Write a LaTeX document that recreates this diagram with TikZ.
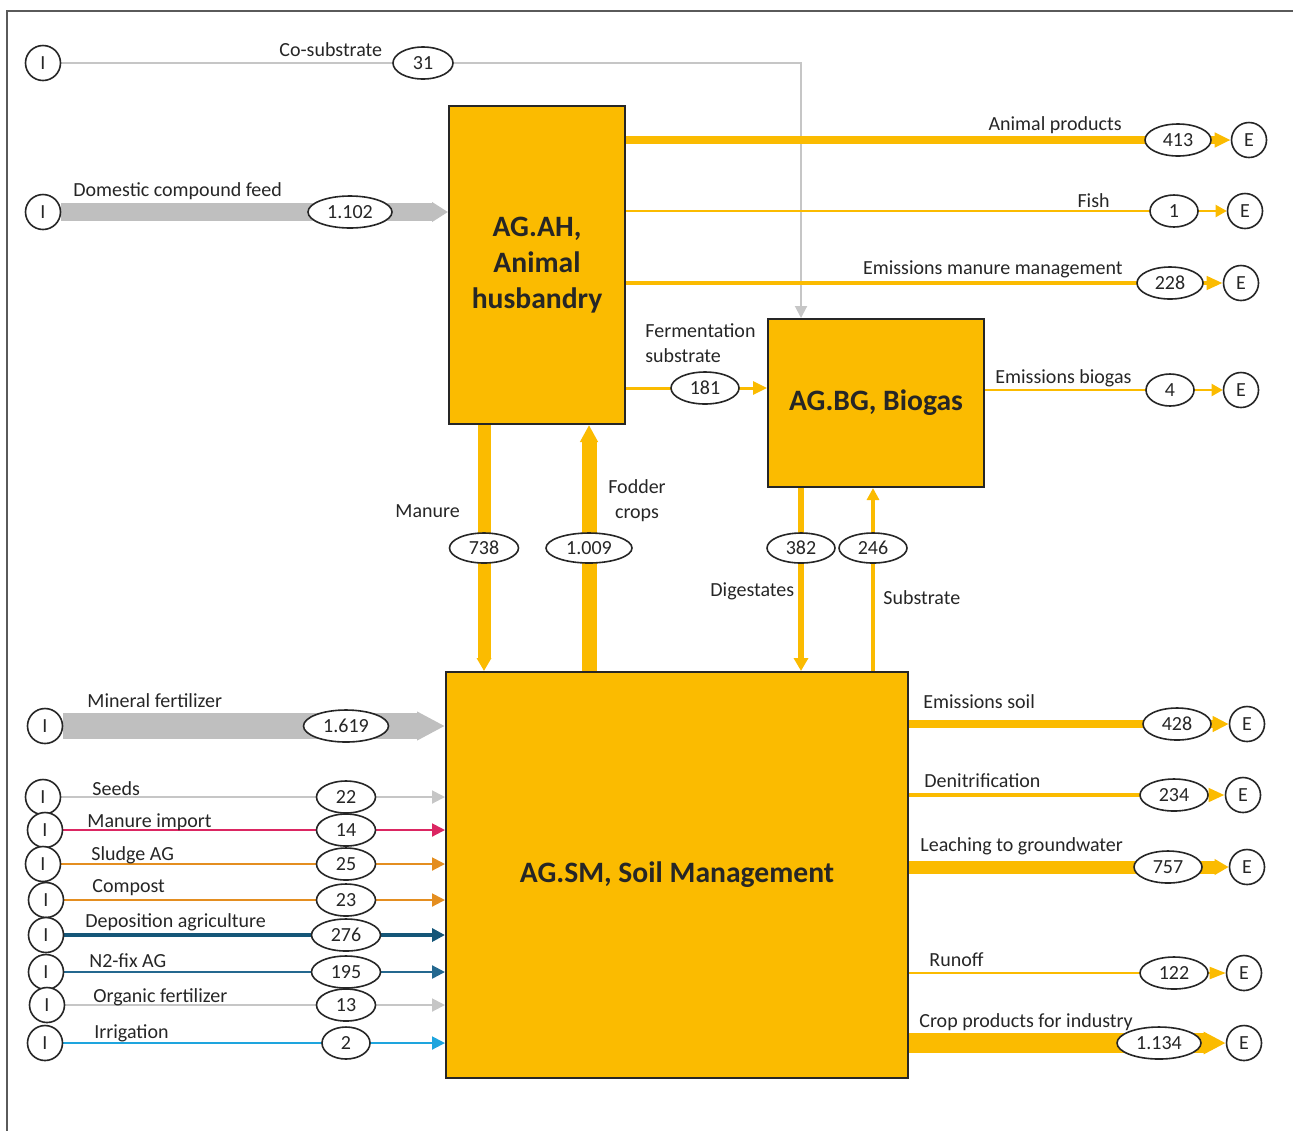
\documentclass[tikz,border=0pt]{standalone}
\usepackage{fontspec}
\setmainfont{Carlito}
\usepackage{tikz}
\usetikzlibrary{arrows.meta,shapes.geometric,backgrounds}
\definecolor{agyellow}{RGB}{251,187,0}
\definecolor{bandgray}{RGB}{191,191,191}
\definecolor{linegray}{RGB}{198,198,198}
\definecolor{framegray}{RGB}{90,90,90}
\definecolor{manurered}{RGB}{219,38,98}
\definecolor{sludgeorange}{RGB}{228,142,32}
\definecolor{depoblue}{RGB}{21,86,120}
\definecolor{fixblue}{RGB}{36,104,143}
\definecolor{irriblue}{RGB}{30,165,222}

\begin{document}
\begin{tikzpicture}[x=0.5pt,y=-0.5pt,font=\fontsize{10}{12.25}\selectfont,text=black!85,
    io/.style={circle,draw=black!85,line width=0.8pt,fill=white,minimum size=17.5pt,inner sep=0pt},
    val/.style={ellipse,draw=black!85,line width=0.8pt,fill=white,minimum height=16pt,inner sep=0pt},
    sector/.style={draw=black!85,line width=1pt,fill=agyellow,anchor=north west,align=center,inner sep=0pt,
      font=\fontsize{14.8}{18}\selectfont\bfseries},
    lbl/.style={inner sep=0pt,anchor=base west},
    lbr/.style={inner sep=0pt,anchor=base east}]
  \useasboundingbox (0,0) rectangle (1293,1131);
  \draw[framegray,line width=0.6pt] (1293,11) -- (7,11) -- (7,1131);

  \node[sector,minimum width=88pt,minimum height=159pt] (ah) at (448,105) {AG.AH,\\Animal\\husbandry};
  \node[sector,minimum width=108pt,minimum height=84pt] (bg) at (767,318) {AG.BG, Biogas};
  \node[sector,minimum width=231pt,minimum height=203pt] (sm) at (445,671) {AG.SM, Soil Management};

  \node[io] (i1) at (43,63) {I};
  \node[val,minimum width=30pt] (v31) at (423,63) {31};
  \node[lbl] at (279,56) {Co-substrate};
  \node[io] (i2) at (43,212) {I};
  \node[val,minimum width=42pt] (v1102) at (350,212) {1.102};
  \node[lbl] at (73,196) {Domestic compound feed};
  \node[io] (i3) at (45,726) {I};
  \node[val,minimum width=42.5pt] (v1619) at (346,726) {1.619};
  \node[lbl] at (87,707) {Mineral fertilizer};

  \node[val,minimum width=33pt] (v413) at (1178,140) {413};
  \node[io] (e1) at (1249,140) {E};
  \node[lbr] at (1122,130) {Animal products};
  \node[val,minimum width=24pt] (v1) at (1174,211) {1};
  \node[io] (e2) at (1245,211) {E};
  \node[lbr] at (1110,207) {Fish};
  \node[val,minimum width=33pt] (v228) at (1170,283) {228};
  \node[io] (e3) at (1241,283) {E};
  \node[lbr] at (1123,274) {Emissions manure management};
  \node[val,minimum width=34pt] (v181) at (705,388) {181};
  \node[lbl,align=left] at (645,362) {Fermentation\\substrate};
  \node[val,minimum width=24pt] (v4) at (1170,390) {4};
  \node[io] (e4) at (1241,390) {E};
  \node[lbl] at (995,383) {Emissions biogas};

  \node[val,minimum width=34.5pt,minimum height=15pt] (v738) at (484,548) {738};
  \node[lbl] at (395,517) {Manure};
  \node[val,minimum width=43pt,minimum height=15pt] (v1009) at (589,548) {1.009};
  \node[inner sep=0pt,anchor=base,align=center] at (637,518) {Fodder\\crops};
  \node[val,minimum width=34pt,minimum height=15pt] (v382) at (801,548) {382};
  \node[lbl] at (710,596) {Digestates};
  \node[val,minimum width=34pt,minimum height=15pt] (v246) at (873,548) {246};
  \node[lbl] at (883,604) {Substrate};

  \node[val,minimum width=34pt] (v428) at (1177,724) {428};
  \node[io] (e5) at (1247,724) {E};
  \node[lbl] at (923,708) {Emissions soil};
  \node[val,minimum width=34pt] (v234) at (1174,795) {234};
  \node[io] (e6) at (1243,795) {E};
  \node[lbl] at (924,787) {Denitrification};
  \node[val,minimum width=34pt] (v757) at (1168,867) {757};
  \node[io] (e7) at (1247,867) {E};
  \node[lbl] at (920,851) {Leaching to groundwater};
  \node[val,minimum width=34pt] (v122) at (1174,973) {122};
  \node[io] (e8) at (1244,973) {E};
  \node[lbl] at (929,966) {Runoff};
  \node[val,minimum width=42pt] (v1134) at (1159,1043) {1.134};
  \node[io] (e9) at (1244,1043) {E};
  \node[lbl] at (919,1027) {Crop products for industry};

  \foreach \n/\cx/\cy/\lx/\ly/\txt/\v/\w/\c/\lw in {
      seeds/43/797/92/795/Seeds/22/29.5pt/linegray/1pt,
      mimp/45/830/87/827/Manure import/14/29.5pt/manurered/1pt,
      sludge/43/864/91/860/Sludge AG/25/29.5pt/sludgeorange/1pt,
      compost/46/900/92/892/Compost/23/29.5pt/sludgeorange/1pt,
      depo/46/935/85/927/Deposition agriculture/276/34.5pt/depoblue/1.7pt,
      nfix/46/972/89/967/N2-fix AG/195/34.5pt/fixblue/1.2pt,
      orgf/47/1005/93/1002/Organic fertilizer/13/29.5pt/linegray/1pt,
      irri/45/1043/94/1038/Irrigation/2/24pt/irriblue/1pt}{
    \node[io] (i\n) at (\cx,\cy) {I};
    \node[val,minimum width=\w] (v\n) at (346,\cy) {\v};
    \node[lbl] at (\lx,\ly) {\txt};
    \begin{scope}[on background layer]
      \draw[\c,line width=\lw,-{Triangle[length=6.5pt,width=6.5pt]}] (i\n) -- (v\n.center) -- (sm.west |- v\n);
    \end{scope}
  }

  \begin{scope}[on background layer]
    \draw[linegray,line width=1pt,-{Triangle[length=6pt,width=6pt]}] (i1) -- (v31.center) -| (v382 |- bg.north);
    \draw[bandgray,line width=9pt,-{Triangle[length=8pt,width=9.5pt]}] (i2) -- (v1102.center) -- (ah.west |- v1102);
    \draw[bandgray,line width=13pt,-{Triangle[length=14pt,width=13.5pt]}] (i3) -- (v1619.center) -- (sm.west |- v1619);

    \draw[agyellow,line width=4pt,-{Triangle[length=8pt,width=7pt]}] (ah.east |- v413) -- (v413.center) -- (e1);
    \draw[agyellow,line width=1pt,-{Triangle[length=5.5pt,width=6pt]}] (ah.east |- v1) -- (v1.center) -- (e2);
    \draw[agyellow,line width=2pt,-{Triangle[length=8pt,width=6.5pt]}] (ah.east |- v228) -- (v228.center) -- (e3);
    \draw[agyellow,line width=1.5pt,-{Triangle[length=7pt,width=6.5pt]}] (ah.east |- v181) -- (v181.center) -- (bg.west |- v181);
    \draw[agyellow,line width=1pt,-{Triangle[length=5.5pt,width=6pt]}] (bg.east |- v4) -- (v4.center) -- (e4);

    \draw[agyellow,line width=6.5pt,-{Triangle[length=6.5pt,width=7pt]}] (v738 |- ah.south) -- (v738.center) -- (v738 |- sm.north);
    \draw[agyellow,line width=7.5pt,-{Triangle[length=8.5pt,width=8.5pt]}] (v1009 |- sm.north) -- (v1009.center) -- (v1009 |- ah.south);
    \draw[agyellow,line width=3pt,-{Triangle[length=6.5pt,width=7pt]}] (v382 |- bg.south) -- (v382.center) -- (v382 |- sm.north);
    \draw[agyellow,line width=1.8pt,-{Triangle[length=6pt,width=6pt]}] (v246 |- sm.north) -- (v246.center) -- (v246 |- bg.south);

    \draw[agyellow,line width=4pt,-{Triangle[length=8pt,width=7.5pt]}] (sm.east |- v428) -- (v428.center) -- (e5);
    \draw[agyellow,line width=2pt,-{Triangle[length=8pt,width=6.5pt]}] (sm.east |- v234) -- (v234.center) -- (e6);
    \draw[agyellow,line width=6.5pt,-{Triangle[length=7pt,width=7.5pt]}] (sm.east |- v757) -- (v757.center) -- (e7);
    \draw[agyellow,line width=1pt,-{Triangle[length=8pt,width=6pt]}] (sm.east |- v122) -- (v122.center) -- (e8);
    \draw[agyellow,line width=10pt,-{Triangle[length=11pt,width=10.5pt]}] (sm.east |- v1134) -- (v1134.center) -- (e9);
  \end{scope}
\end{tikzpicture}
\end{document}
